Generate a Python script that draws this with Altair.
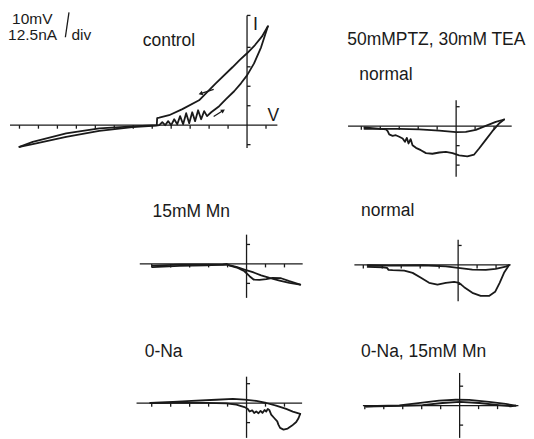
import math
import altair as alt
import pandas as pd

# ---------------- data: membrane potential (mV) and current (nA), in drawing order ----------------
# control (upper-left)
ctrl_fwd_v = [-120, -113, -95.4, -77.9, -60.4, -47.9, -46.3, -44.7, -43.2, -41.6, -40, -38.4, -36.8,
              -35.3, -33.7, -32.1, -30.5, -28.9, -27.4, -25.8, -24.2, -22.6, -21.1, -18.9, -14.7,
              -11.1, -6.8, -3.2, 0, 3.7, 7.4, 11]
ctrl_fwd_i = [-13.9, -12.2, -7.5, -3.7, -1.3, -0.3, 0, 1.9, 0, 2.6, 0, 3.8, 0.6, 5.8, 0.6, 7.7, 1.3,
              8.3, 2.6, 9.6, 3.8, 9.0, 5.8, 8.3, 12.2, 16.7, 21.8, 26.9, 32, 39.7, 50, 63.5]
ctrl_ret_v = [11, 7.9, 4.2, 0, -3.8, -7.7, -16.5, -25.3, -34.1, -41.1, -46.3, -47.4, -47.6, -60.5,
              -77.9, -95.4, -113, -120]
ctrl_ret_i = [63.5, 57, 51.5, 46.2, 42, 37.2, 26.9, 16, 10.3, 6.4, 4.8, 4.5, 0, -0.8, -2.1, -5.3,
              -10.7, -13.9]

# 50 mM PTZ, 30 mM TEA - normal
ptz_fwd_v = [-48.4, -39.6, -30, -19.5, -8.9, 0, 5.1, 10.4, 15.6, 20.9, 25.3]
ptz_fwd_i = [-1.7, -1.7, -1.7, -2.1, -2.8, -3.8, -3.6, -2.4, 0.2, 2.8, 4.3]
ptz_ret_v = [25.3, 22.6, 19.1, 15.6, 12.1, 9.5, 5.9, 1.6, -1.9, -5.4, -8.9, -12.5, -15.9, -18.6,
             -21.2, -23, -24, -25.1, -26, -27, -28.2, -30, -31.8, -33.5, -35.3, -36.1, -37, -48.4]
ptz_ret_i = [4.3, 1.7, -3.2, -8.8, -14.3, -18.2, -19.4, -18.8, -17.3, -16.5, -16.9, -17.7, -17.3,
             -15.4, -13.9, -12.2, -8.3, -11.1, -7.5, -10, -7.9, -6.8, -5.8, -6.2, -5.3, -3.2, -2.1, -0.8]

# 15 mM Mn
mn_a_v = [-49.6, -35.3, -21.2, -12.5, -10.4, -8.9, -4.6, -1.1, 1.6, 3.7, 6.8, 10.4, 13.8, 18.2, 22.6, 28.3]
mn_a_i = [-2.1, -1.3, -0.9, -0.4, 0, -1.1, -2.6, -4.7, -7.9, -10, -10.3, -9.8, -9, -9.2, -11.1, -13.3]
mn_b_v = [28.3, 22.6, 17.4, 12.1, 7.7, 3.3, -1.1, -5.4, -9.8, -21.2, -35.3, -49.6]
mn_b_i = [-13.3, -12.2, -10.7, -9, -7.3, -5.3, -3.6, -1.9, -0.6, -0.4, -0.4, -1.1]

# normal (middle right)
nor_fwd_v = [-47.7, -36.3, -18.8, -6.5, 0, 7.5, 14.6, 19.8, 25.1, 26.8]
nor_fwd_i = [-0.2, -0.4, -0.2, -0.9, -1.9, -3, -3.2, -2.6, -1.1, -0.2]
nor_ret_v = [26.8, 24.2, 21.9, 19.5, 16.3, 11.9, 7.5, 3.2, 0.5, -2.1, -6.5, -10.9, -15.3, -19.6,
             -24, -28.4, -34.6, -36.7, -37.5, -39.8, -47.7]
nor_ret_i = [-0.2, -5.1, -11.5, -17.3, -19.9, -19.9, -17.9, -14.3, -11.5, -10.9, -11.5, -12.6,
             -11.5, -8.3, -5.1, -3.7, -3.4, -3.2, -1.9, -1.5, -1.3]

# 0-Na
na_fwd_v = [-50.7, -26.5, -10.7, -5.4, -1.1, 0.7, 1.6, 3, 4, 5.1, 6.3, 7.4, 8.4, 9.5, 10.4, 11.2,
            12.1, 13, 14.7, 16.2, 16.8, 17.7, 19.5, 21.7, 24, 26.2, 27.4, 28.3]
na_fwd_i = [0.1, 0.3, -0.1, -1, -2.5, -3.7, -5.4, -4.6, -6.3, -5.3, -6.5, -5, -6.3, -4.4, -5.4,
            -3.7, -4.6, -7.4, -9.7, -11.7, -13.8, -15.9, -17, -16.3, -14.4, -12.1, -9.7, -6.9]
na_ret_v = [28.3, 24.4, 20.9, 15.6, 10.4, 5.1, -1.1, -7.2, -15.9, -26.5, -38.8, -50.7]
na_ret_i = [-6.9, -5.4, -3.7, -1.6, 0.1, 1.4, 2.2, 2.7, 2.2, 1.6, 0.8, 0.1]

# 0-Na, 15 mM Mn
nm_a_v = [-49.4, -31.8, -19.6, -9, 0.1, 10.3, 20.8, 26.9, 29.6]
nm_a_i = [-0.6, -0.2, 0.4, 1.7, 2.4, 1.7, 0.4, -0.4, 0]
nm_b_v = [29.6, 24.3, 15.5, 5, -2, -10.8, -19.6, -31.8, -49.4]
nm_b_i = [0, 1.1, 2.4, 3.7, 3.8, 3.2, 1.9, 0.2, -0.4]

# axis divisions: 10 mV and 12.5 nA
ctrl_xticks = [-120, -110, -100, -90, -80, -70, -60, -50, -40, -30, -20, -10, 10]
ctrl_yticks = [-12.5, 12.5, 25, 37.5, 50]
small_xticks = [-50, -40, -30, -20, -10, 10, 20]
small_yticks = [12.5, -12.5]
ptz_yticks = [12.5, -12.5, -25]

# ---------------- style / layout ----------------
SX = 1.9     # px per mV
SY = 1.56    # px per nA
INK = "#1a1a1a"
FONT = "Liberation Sans"
FS = 17.5
TKX = 3.5 / SY   # tick length below the V axis (nA)
TKY = 3.5 / SX   # tick length right of the I axis (mV)


def curve_df(curves):
    rows = []
    for s, (vs, cs) in enumerate(curves):
        for k, (v, c) in enumerate(zip(vs, cs)):
            rows.append({"x": v, "y": c, "seg": s, "k": k})
    return pd.DataFrame(rows)


def panel(w, h, ox, oy, hx, vy, xticks, yticks, curves, labels, extra_segs=(), arrows=()):
    xs = alt.Scale(domain=[-ox / SX, (w - ox) / SX], nice=False, zero=False)
    ys = alt.Scale(domain=[-(h - oy) / SY, oy / SY], nice=False, zero=False)
    X = alt.X("x:Q", scale=xs, axis=None)
    Y = alt.Y("y:Q", scale=ys, axis=None)

    segs = [(hx[0], 0, hx[1], 0), (0, vy[0], 0, vy[1])]
    segs += [(t, 0, t, -TKX) for t in xticks]
    segs += [(0, t, TKY, t) for t in yticks]
    segs += list(extra_segs)
    for a in arrows:
        segs.append(a)
    seg_df = pd.DataFrame(segs, columns=["x", "y", "x2", "y2"])
    layers = [
        alt.Chart(seg_df).mark_rule(color=INK, strokeWidth=1.3).encode(
            x=X, y=Y, x2="x2:Q", y2="y2:Q")
    ]
    layers.append(
        alt.Chart(curve_df(curves)).mark_line(color=INK, strokeWidth=1.8, strokeJoin="round",
                                              strokeCap="round").encode(
            x=X, y=Y, detail="seg:N", order="k:Q")
    )
    if arrows:
        heads = []
        for (x1, y1, x2, y2) in arrows:
            ang = math.degrees(math.atan2((x2 - x1) * SX, (y2 - y1) * SY)) % 360
            heads.append({"x": x2, "y": y2, "ang": ang})
        layers.append(
            alt.Chart(pd.DataFrame(heads)).mark_point(shape="triangle-up", filled=True, color=INK,
                                                      size=22, opacity=1).encode(
                x=X, y=Y, angle=alt.Angle("ang:Q", scale=None))
        )
    lab_df = pd.DataFrame(labels, columns=["t", "x", "y", "fs"])
    layers.append(
        alt.Chart(lab_df).mark_text(align="left", baseline="alphabetic", font=FONT, color=INK).encode(
            x=X, y=Y, text="t:N", size=alt.Size("fs:Q", scale=None))
    )
    return alt.layer(*layers).properties(width=w, height=h)


p_ctrl = panel(322, 177, 239.5, 117, (-125, 16), (-14.7, 70.5), ctrl_xticks, ctrl_yticks,
               [(ctrl_fwd_v, ctrl_fwd_i), (ctrl_ret_v, ctrl_ret_i)],
               [("10mV", -123.9, 65.1, 15.5), ("12.5nA", -126.0, 54.5, 15.5), ("div", -92.6, 54.5, 15.5),
                ("control", -55, 51, FS), ("I", 3.2, 61.2, 18), ("V", 10.8, 2.6, FS)],
               extra_segs=[(-93.9, 72.4, -95.8, 56.5), (0, 70.5, 1.8, 70.5)],
               arrows=[(-17.6, 23.0, -24.5, 20.3), (-17.6, 5.6, -12.6, 9.4)])

p_ptz = panel(196, 177, 127, 118, (-57, 29.3), (-32.5, 16.7), small_xticks, ptz_yticks,
              [(ptz_fwd_v, ptz_fwd_i), (ptz_ret_v, ptz_ret_i)],
              [("50mMPTZ, 30mM TEA", -57.4, 51.9, FS), ("normal", -51.1, 29.5, FS)])

p_mn = panel(322, 120, 239, 79, (-56.3, 29.6), (-21.8, 18.8), small_xticks, small_yticks,
             [(mn_a_v, mn_a_i), (mn_b_v, mn_b_i)],
             [("15mM Mn", -49.6, 30.4, FS)])

p_nor = panel(196, 120, 129, 80, (-54.7, 27.7), (-23.3, 16.2), small_xticks, small_yticks,
              [(nor_fwd_v, nor_fwd_i), (nor_ret_v, nor_ret_i)],
              [("normal", -51.2, 31.1, FS)])

p_na = panel(322, 126, 239, 98.5, (-58, 29.3), (-22.3, 17), small_xticks, small_yticks,
             [(na_fwd_v, na_fwd_i), (na_ret_v, na_ret_i)],
             [("0-Na", -53.7, 29.8, FS)])

p_nm = panel(196, 126, 130.5, 101, (-51, 31), (-20.7, 21), small_xticks, small_yticks,
             [(nm_a_v, nm_a_i), (nm_b_v, nm_b_i)],
             [("0-Na, 15mM Mn", -52, 31.1, FS)])

chart = alt.concat(
    p_ctrl, p_ptz, p_mn, p_nor, p_na, p_nm,
    columns=2, spacing=0, bounds="flush",
).properties(padding=0).configure_view(stroke=None)

chart.save("out.html", embed_options={"renderer": "svg", "actions": False})
